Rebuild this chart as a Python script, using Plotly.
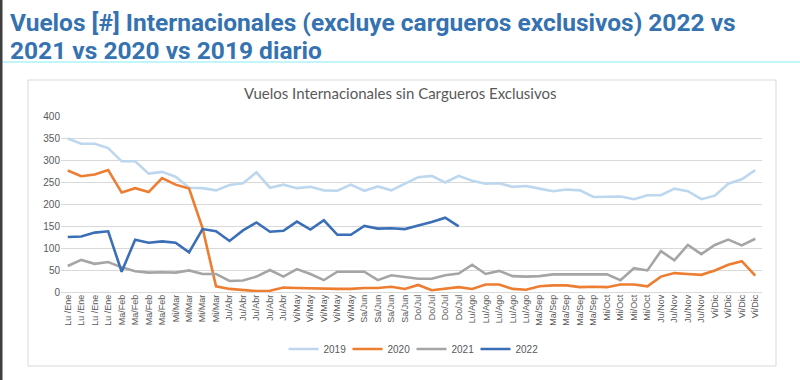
import plotly.graph_objects as go

month_labels = ["Lu /Ene"] * 4 + ["Ma/Feb"] * 4 + ["Mi/Mar"] * 4 + ["Ju/Abr"] * 5 + ["Vi/May"] * 5 + \
    ["Sa/Jun"] * 4 + ["Do/Jul"] * 4 + ["Lu/Ago"] * 5 + ["Ma/Sep"] * 5 + ["Mi/Oct"] * 4 + \
    ["Ju/Nov"] * 4 + ["Vi/Dic"] * 4
weeks = list(range(len(month_labels)))

v2019 = [349, 337, 337, 327, 297, 297, 269, 273, 262, 237, 236, 231, 243, 247, 272, 237,
         244, 236, 239, 231, 230, 244, 230, 240, 231, 246, 261, 264, 249, 264, 253, 246,
         247, 239, 241, 235, 229, 233, 231, 216, 217, 217, 211, 220, 220, 235, 229, 211,
         219, 246, 256, 277]
v2020 = [276, 263, 267, 277, 226, 236, 227, 259, 244, 235, 145, 13, 7, 4, 2, 3,
         10, 9, 8, 7, 7, 7, 9, 9, 12, 7, 16, 4, 8, 11, 7, 17,
         17, 7, 5, 13, 15, 15, 11, 12, 11, 17, 17, 13, 35, 43, 41, 39,
         49, 62, 70, 37]
v2021 = [59, 73, 64, 68, 56, 47, 44, 45, 44, 49, 41, 41, 25, 26, 35, 50,
         35, 52, 41, 27, 46, 46, 46, 27, 38, 34, 30, 30, 38, 42, 62, 41,
         48, 36, 35, 36, 40, 40, 40, 39, 40, 27, 54, 49, 93, 72, 107, 86,
         107, 119, 106, 121]
v2022 = [125, 126, 135, 138, 46, 119, 112, 115, 112, 90, 143, 138, 116, 140, 158, 137,
         139, 160, 142, 163, 130, 130, 150, 144, 145, 143, 151, 159, 169, 149]

series = [("2019", v2019, "#BDD7EE"), ("2020", v2020, "#ED7D31"),
          ("2021", v2021, "#A5A5A5"), ("2022", v2022, "#3A6FB7")]

fig = go.Figure()
for name, vals, col in series:
    fig.add_trace(go.Scatter(x=weeks[:len(vals)], y=vals, mode="lines", name=name,
                             line=dict(color=col, width=2.6)))

L, R, T, B = 61, 38, 116, 88
W, H = 800, 380
pw, ph = W - L - R, H - T - B

def px(x):
    return (x - L) / pw

def py(y):
    return (H - B - y) / ph

shapes = [
    dict(type="rect", xref="paper", yref="paper", x0=px(28), x1=px(776), y0=py(366), y1=py(80),
         line=dict(color="#D9D9D9", width=1), fillcolor="rgba(0,0,0,0)", layer="below"),
    dict(type="line", xref="paper", yref="paper", x0=px(0), x1=px(800), y0=py(62), y1=py(62),
         line=dict(color="#86F0F4", width=1.2)),
    dict(type="rect", xref="paper", yref="paper", x0=px(0), x1=px(2.5), y0=py(380), y1=py(0),
         line=dict(width=0), fillcolor="#3F3F3F"),
]

title_font = dict(family="Roboto", size=24.5, color="#3572B0", weight="bold")
annotations = [
    dict(text="Vuelos [#] Internacionales (excluye cargueros exclusivos) 2022 vs", xref="paper", yref="paper",
         x=px(8), y=py(22.5), xanchor="left", yanchor="middle", showarrow=False, font=title_font),
    dict(text="2021 vs 2020 vs 2019 diario", xref="paper", yref="paper",
         x=px(8), y=py(50.5), xanchor="left", yanchor="middle", showarrow=False, font=title_font),
    dict(text="Vuelos Internacionales sin Cargueros Exclusivos", xref="paper", yref="paper",
         x=px(400), y=py(93), xanchor="center", yanchor="middle", showarrow=False,
         font=dict(family="Lato", size=15, color="#595959")),
]

fig.update_layout(
    width=W, height=H,
    margin=dict(l=L, r=R, t=T, b=B),
    paper_bgcolor="white", plot_bgcolor="white",
    shapes=shapes,
    annotations=annotations,
    xaxis=dict(tickmode="array", tickvals=weeks, ticktext=month_labels, tickangle=-90,
               range=[-0.5, len(weeks) - 0.5], showgrid=False, zeroline=False,
               showline=False, ticks="", tickfont=dict(family="Liberation Sans", size=9, color="#595959")),
    yaxis=dict(range=[0, 400], dtick=50, showgrid=True, gridcolor="#D9D9D9", gridwidth=1,
               zeroline=True, zerolinecolor="#D9D9D9", zerolinewidth=1, showline=False, ticks="",
               tickfont=dict(family="Liberation Sans", size=10, color="#595959")),
    legend=dict(orientation="h", x=0.5, xanchor="center", y=py(349), yanchor="middle",
                font=dict(family="Liberation Sans", size=10, color="#595959"),
                itemwidth=30, entrywidth=19, entrywidthmode="pixels", tracegroupgap=0),
    showlegend=True,
)

fig.write_html("out.html", config={"displayModeBar": False},
               post_script="document.body.style.margin='0px';")
